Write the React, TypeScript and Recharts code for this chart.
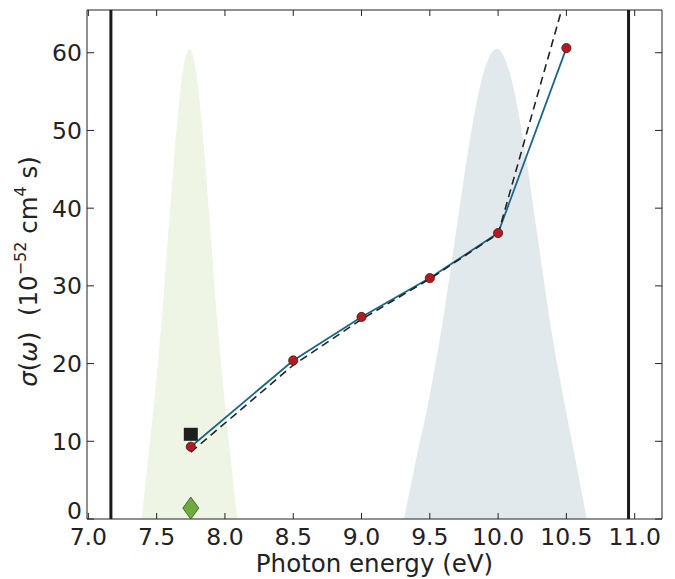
import { Area, ComposedChart, Line, ReferenceLine, Scatter, XAxis, YAxis } from 'recharts';

const xTicks = [7.0, 7.5, 8.0, 8.5, 9.0, 9.5, 10.0, 10.5, 11.0];
const yTicks = [0, 10, 20, 30, 40, 50, 60];

// computed cross sections (red dots joined by the teal line)
const simEnergy = [7.75, 8.5, 9.0, 9.5, 10.0, 10.5];
const simSigma = [9.3, 20.4, 26.0, 31.0, 36.8, 60.6];

// dashed fit
const fitEnergy = [7.75, 8.5, 9.0, 9.5, 10.0, 10.465];
const fitSigma = [8.6, 19.8, 25.7, 30.9, 36.7, 65.5];

// pulse spectra shaded behind
const greenEnergy = [7.39, 7.44, 7.49, 7.54, 7.59, 7.64, 7.69, 7.74, 7.79, 7.84, 7.89, 7.94, 7.99, 8.04, 8.09];
const greenPulse = [0, 8.2, 16.5, 26.3, 37.9, 49.1, 57.4, 60.5, 57.4, 49.1, 37.9, 26.3, 16.5, 8.2, 0];
const blueEnergy = [9.31, 9.39, 9.49, 9.59, 9.69, 9.79, 9.89, 9.99, 10.09, 10.19, 10.29, 10.39, 10.49, 10.57, 10.65];
const bluePulse = [0, 6.9, 15.1, 24.9, 36.7, 48.4, 57.2, 60.5, 57.1, 48.1, 36.2, 24.3, 14.6, 7.3, 0];

const squareEnergy = [7.75];
const squareSigma = [10.9];
const diamondEnergy = [7.75];
const diamondSigma = [1.4];

const edgeLines = [7.165, 10.955];

const ink = '#222222';
const font = '"DejaVu Sans", sans-serif';
const TICK = 6; // recharts offsets tick props by tickSize

function buildRows() {
  const rows = new Map<number, Record<string, number>>();
  const put = (xs: number[], ys: number[], key: string) =>
    xs.forEach((x, i) => {
      const row = rows.get(x) ?? { x };
      row[key] = ys[i];
      rows.set(x, row);
    });
  put(greenEnergy, greenPulse, 'green');
  put(blueEnergy, bluePulse, 'blue');
  put(simEnergy, simSigma, 'sim');
  put(fitEnergy, fitSigma, 'fit');
  return [...rows.values()].sort((a, b) => a.x - b.x);
}

const rows = buildRows();
const simPoints = simEnergy.map((x, i) => ({ x, y: simSigma[i] }));
const squarePoints = squareEnergy.map((x, i) => ({ x, y: squareSigma[i] }));
const diamondPoints = diamondEnergy.map((x, i) => ({ x, y: diamondSigma[i] }));

const BottomTick = ({ x, y, payload }: any) => {
  const base = y - TICK;
  return (
    <g>
      <line x1={x} x2={x} y1={base} y2={base - 6} stroke={ink} />
      <text x={x} y={base + 26} textAnchor="middle" fill={ink} fontSize={23.5} fontFamily={font}>
        {Number(payload.value).toFixed(1)}
      </text>
    </g>
  );
};

const TopTick = ({ x, y }: any) => {
  const base = y + TICK;
  return <line x1={x} x2={x} y1={base} y2={base + 6} stroke={ink} />;
};

const LeftTick = ({ x, y, payload }: any) => {
  const base = x + TICK;
  const lift = payload.value === 0 ? 9 : 0;
  return (
    <g>
      <line x1={base} x2={base + 7} y1={y} y2={y} stroke={ink} />
      <text x={base - 5} y={y + 8.5 - lift} textAnchor="end" fill={ink} fontSize={23.5} fontFamily={font}>
        {payload.value}
      </text>
    </g>
  );
};

const RightTick = ({ x, y }: any) => {
  const base = x - TICK;
  return <line x1={base} x2={base - 7} y1={y} y2={y} stroke={ink} />;
};

const XLabel = ({ viewBox }: any) => (
  <text
    x={viewBox.x + viewBox.width / 2}
    y={viewBox.y + 53}
    textAnchor="middle"
    fill={ink}
    fontSize={24.5}
    fontFamily={font}
  >
    Photon energy (eV)
  </text>
);

const YLabel = ({ viewBox }: any) => {
  const cx = 37;
  const cy = viewBox.y + viewBox.height / 2 + 7;
  return (
    <text
      x={cx}
      y={cy}
      transform={`rotate(-90, ${cx}, ${cy})`}
      textAnchor="middle"
      fill={ink}
      fontSize={24.5}
      fontFamily={font}
    >
      <tspan fontStyle="italic">σ</tspan>
      <tspan>(</tspan>
      <tspan fontStyle="italic">ω</tspan>
      <tspan>)</tspan>
      <tspan>{'\u00a0\u00a0(10'}</tspan>
      <tspan dy={-11} fontSize={16}>−52</tspan>
      <tspan dy={11}>{'\u00a0cm'}</tspan>
      <tspan dy={-11} fontSize={16}>4</tspan>
      <tspan dy={11}>{'\u00a0s)'}</tspan>
    </text>
  );
};

const Dot = ({ cx, cy }: any) => <circle cx={cx} cy={cy} r={4.6} fill="#b01c22" stroke="#4a1515" strokeWidth={0.8} />;
const Square = ({ cx, cy }: any) => <rect x={cx - 7} y={cy - 6.5} width={14} height={13} fill="#1e1e1e" />;
const Diamond = ({ cx, cy }: any) => (
  <polygon
    points={`${cx},${cy - 11} ${cx + 8},${cy} ${cx},${cy + 11} ${cx - 8},${cy}`}
    fill="#6fab3e"
    stroke="#33501d"
    strokeWidth={0.8}
  />
);

export default function App() {
  return (
    <div style={{ position: 'absolute', left: 0, top: 0, width: 675, height: 579, background: '#fff' }}>
      <ComposedChart width={675} height={579} data={rows} margin={{ top: 9, right: 12, left: 0, bottom: 0 }}>
        <XAxis
          dataKey="x"
          type="number"
          domain={[6.99, 11.2]}
          allowDataOverflow
          ticks={xTicks}
          height={60}
          tickSize={TICK}
          tickMargin={0}
          tickLine={false}
          tick={<BottomTick />}
          axisLine={{ stroke: ink }}
          interval={0}
          label={XLabel}
        />
        <XAxis
          xAxisId="top"
          orientation="top"
          dataKey="x"
          type="number"
          domain={[6.99, 11.2]}
          allowDataOverflow
          ticks={xTicks}
          height={1}
          tickSize={TICK}
          tickMargin={0}
          tickLine={false}
          tick={<TopTick />}
          axisLine={{ stroke: ink }}
          interval={0}
        />
        <YAxis
          type="number"
          domain={[0, 65.5]}
          allowDataOverflow
          ticks={yTicks}
          width={87}
          tickSize={TICK}
          tickMargin={0}
          tickLine={false}
          tick={<LeftTick />}
          axisLine={{ stroke: ink }}
          interval={0}
          label={YLabel}
        />
        <YAxis
          yAxisId="right"
          orientation="right"
          type="number"
          domain={[0, 65.5]}
          allowDataOverflow
          ticks={yTicks}
          width={1}
          tickSize={TICK}
          tickMargin={0}
          tickLine={false}
          tick={<RightTick />}
          axisLine={{ stroke: ink }}
          interval={0}
        />
        <Area
          dataKey="green"
          type="monotone"
          connectNulls
          stroke="none"
          fill="#eff5e5"
          fillOpacity={1}
          isAnimationActive={false}
        />
        <Area
          dataKey="blue"
          type="monotone"
          connectNulls
          stroke="none"
          fill="#e2e9ed"
          fillOpacity={1}
          isAnimationActive={false}
        />
        {edgeLines.map((x) => (
          <ReferenceLine key={x} x={x} stroke="#1a1a1a" strokeWidth={3} />
        ))}
        <Line
          dataKey="sim"
          type="linear"
          connectNulls
          stroke="#1a6683"
          strokeWidth={1.8}
          dot={false}
          isAnimationActive={false}
        />
        <Line
          dataKey="fit"
          type="linear"
          connectNulls
          stroke="#222"
          strokeWidth={1.6}
          strokeDasharray="8 5"
          dot={false}
          isAnimationActive={false}
        />
        <Scatter data={simPoints} dataKey="y" shape={Dot} isAnimationActive={false} />
        <Scatter data={squarePoints} dataKey="y" shape={Square} isAnimationActive={false} />
        <Scatter xAxisId="top" data={diamondPoints} dataKey="y" shape={Diamond} isAnimationActive={false} />
      </ComposedChart>
    </div>
  );
}
